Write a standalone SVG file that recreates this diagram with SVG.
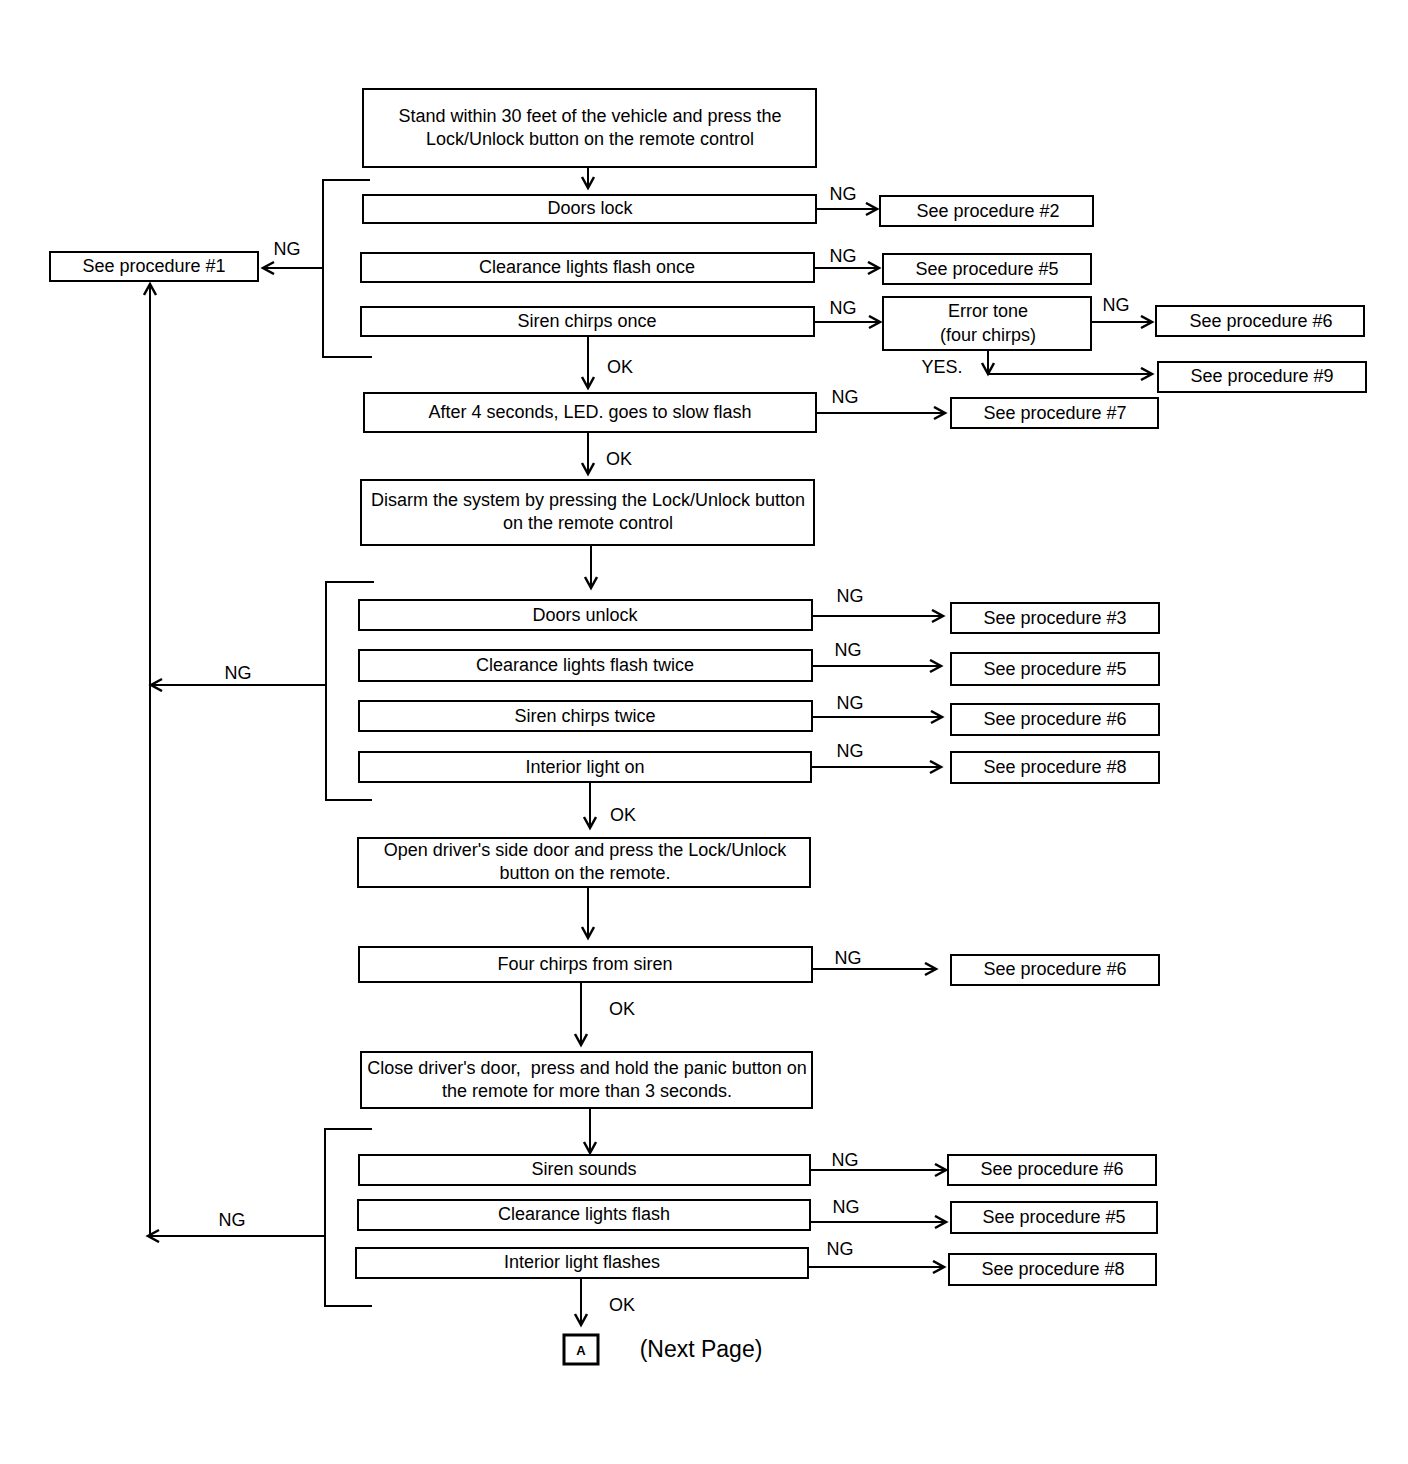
<svg xmlns="http://www.w3.org/2000/svg" width="1408" height="1464" viewBox="0 0 1408 1464">
<defs>
<style>
rect.b{fill:#fff;stroke:#000;stroke-width:2}
text{font-family:"Liberation Sans",Arial,sans-serif;font-size:18px;fill:#000;text-anchor:middle}
.c line,.c path,.c polyline{stroke:#000;stroke-width:2;fill:none}
</style>
<marker id="ah" markerUnits="userSpaceOnUse" markerWidth="16" markerHeight="16" refX="12" refY="7" orient="auto">
<path d="M1,1 L12,7 L1,13" fill="none" stroke="#000" stroke-width="2.5"/>
</marker>
</defs>
<rect width="1408" height="1464" fill="#fff"/>

<g class="c" id="connectors">
<line x1="588" y1="167" x2="588" y2="188" marker-end="url(#ah)"/>
<polyline points="370,180 323,180 323,357 372,357"/>
<line x1="323" y1="268" x2="263" y2="268" marker-end="url(#ah)"/>
<line x1="816" y1="209" x2="877" y2="209" marker-end="url(#ah)"/>
<line x1="814" y1="268" x2="879" y2="268" marker-end="url(#ah)"/>
<line x1="814" y1="322" x2="880" y2="322" marker-end="url(#ah)"/>
<line x1="1091" y1="322" x2="1152" y2="322" marker-end="url(#ah)"/>
<line x1="988" y1="350" x2="988" y2="374" marker-end="url(#ah)"/>
<line x1="988" y1="374" x2="1152" y2="374" marker-end="url(#ah)"/>
<line x1="588" y1="336" x2="588" y2="388" marker-end="url(#ah)"/>
<line x1="816" y1="413" x2="945" y2="413" marker-end="url(#ah)"/>
<line x1="588" y1="432" x2="588" y2="474" marker-end="url(#ah)"/>
<line x1="591" y1="545" x2="591" y2="588" marker-end="url(#ah)"/>
<polyline points="374,582 326,582 326,800 372,800"/>
<line x1="326" y1="685" x2="151" y2="685" marker-end="url(#ah)"/>
<line x1="812" y1="616" x2="943" y2="616" marker-end="url(#ah)"/>
<line x1="812" y1="666" x2="941" y2="666" marker-end="url(#ah)"/>
<line x1="812" y1="717" x2="942" y2="717" marker-end="url(#ah)"/>
<line x1="811" y1="767" x2="941" y2="767" marker-end="url(#ah)"/>
<line x1="590" y1="782" x2="590" y2="828" marker-end="url(#ah)"/>
<line x1="588" y1="887" x2="588" y2="938" marker-end="url(#ah)"/>
<line x1="812" y1="969" x2="936" y2="969" marker-end="url(#ah)"/>
<line x1="581" y1="982" x2="581" y2="1045" marker-end="url(#ah)"/>
<line x1="590" y1="1108" x2="590" y2="1153" marker-end="url(#ah)"/>
<polyline points="372,1129 325,1129 325,1306 372,1306"/>
<line x1="325" y1="1236" x2="148" y2="1236" marker-end="url(#ah)"/>
<line x1="150" y1="1236" x2="150" y2="284" marker-end="url(#ah)"/>
<line x1="810" y1="1170" x2="946" y2="1170" marker-end="url(#ah)"/>
<line x1="810" y1="1222" x2="946" y2="1222" marker-end="url(#ah)"/>
<line x1="808" y1="1267" x2="944" y2="1267" marker-end="url(#ah)"/>
<line x1="581" y1="1278" x2="581" y2="1325" marker-end="url(#ah)"/>
</g>

<g id="labels">
<text x="287" y="255">NG</text>
<text x="843" y="200">NG</text>
<text x="843" y="262">NG</text>
<text x="843" y="314">NG</text>
<text x="1116" y="311">NG</text>
<text x="942" y="373">YES.</text>
<text x="620" y="373">OK</text>
<text x="845" y="403">NG</text>
<text x="619" y="465">OK</text>
<text x="238" y="679">NG</text>
<text x="850" y="602">NG</text>
<text x="848" y="656">NG</text>
<text x="850" y="709">NG</text>
<text x="850" y="757">NG</text>
<text x="623" y="821">OK</text>
<text x="848" y="964">NG</text>
<text x="622" y="1015">OK</text>
<text x="232" y="1226">NG</text>
<text x="845" y="1166">NG</text>
<text x="846" y="1213">NG</text>
<text x="840" y="1255">NG</text>
<text x="622" y="1311">OK</text>
</g>

<g id="n-start"><rect class="b" x="363" y="89" width="453" height="78"/>
<text x="590" y="122">Stand within 30 feet of the vehicle and press the</text>
<text x="590" y="145">Lock/Unlock button on the remote control</text></g>

<g id="n-proc1"><rect class="b" x="50" y="252" width="208" height="29"/><text x="154" y="272">See procedure #1</text></g>

<g id="n-doorslock"><rect class="b" x="363" y="195" width="453" height="28"/><text x="590" y="214">Doors lock</text></g>
<g id="n-proc2"><rect class="b" x="880" y="196" width="213" height="30"/><text x="988" y="217">See procedure #2</text></g>
<g id="n-clear1"><rect class="b" x="361" y="253" width="453" height="29"/><text x="587" y="273">Clearance lights flash once</text></g>
<g id="n-proc5a"><rect class="b" x="883" y="254" width="208" height="30"/><text x="987" y="275">See procedure #5</text></g>
<g id="n-siren1"><rect class="b" x="361" y="307" width="453" height="29"/><text x="587" y="327">Siren chirps once</text></g>
<g id="n-error"><rect class="b" x="883" y="297" width="208" height="53"/>
<text x="988" y="317">Error tone</text><text x="988" y="341">(four chirps)</text></g>
<g id="n-proc6a"><rect class="b" x="1156" y="306" width="208" height="30"/><text x="1261" y="327">See procedure #6</text></g>
<g id="n-proc9"><rect class="b" x="1158" y="362" width="208" height="30"/><text x="1262" y="382">See procedure #9</text></g>
<g id="n-led"><rect class="b" x="364" y="393" width="452" height="39"/><text x="590" y="418">After 4 seconds, LED. goes to slow flash</text></g>
<g id="n-proc7"><rect class="b" x="951" y="398" width="207" height="30"/><text x="1055" y="419">See procedure #7</text></g>
<g id="n-disarm"><rect class="b" x="361" y="480" width="453" height="65"/>
<text x="588" y="506">Disarm the system by pressing the Lock/Unlock button</text>
<text x="588" y="529">on the remote control</text></g>

<g id="n-unlock"><rect class="b" x="359" y="600" width="453" height="30"/><text x="585" y="621">Doors unlock</text></g>
<g id="n-proc3"><rect class="b" x="951" y="603" width="208" height="30"/><text x="1055" y="624">See procedure #3</text></g>
<g id="n-clear2"><rect class="b" x="359" y="650" width="453" height="31"/><text x="585" y="671">Clearance lights flash twice</text></g>
<g id="n-proc5b"><rect class="b" x="951" y="653" width="208" height="32"/><text x="1055" y="675">See procedure #5</text></g>
<g id="n-siren2"><rect class="b" x="359" y="701" width="453" height="30"/><text x="585" y="722">Siren chirps twice</text></g>
<g id="n-proc6b"><rect class="b" x="951" y="704" width="208" height="31"/><text x="1055" y="725">See procedure #6</text></g>
<g id="n-intlight"><rect class="b" x="359" y="752" width="452" height="30"/><text x="585" y="773">Interior light on</text></g>
<g id="n-proc8a"><rect class="b" x="951" y="752" width="208" height="31"/><text x="1055" y="773">See procedure #8</text></g>

<g id="n-opendoor"><rect class="b" x="358" y="838" width="452" height="49"/>
<text x="585" y="856">Open driver's side door and press the Lock/Unlock</text>
<text x="585" y="879">button on the remote.</text></g>
<g id="n-fourchirps"><rect class="b" x="359" y="947" width="453" height="35"/><text x="585" y="970">Four chirps from siren</text></g>
<g id="n-proc6c"><rect class="b" x="951" y="955" width="208" height="30"/><text x="1055" y="975">See procedure #6</text></g>
<g id="n-close"><rect class="b" x="361" y="1052" width="451" height="56"/>
<text x="587" y="1074" xml:space="preserve">Close driver's door,  press and hold the panic button on</text>
<text x="587" y="1097">the remote for more than 3 seconds.</text></g>

<g id="n-sirensounds"><rect class="b" x="359" y="1155" width="451" height="30"/><text x="584" y="1175">Siren sounds</text></g>
<g id="n-proc6d"><rect class="b" x="948" y="1155" width="208" height="30"/><text x="1052" y="1175">See procedure #6</text></g>
<g id="n-clear3"><rect class="b" x="358" y="1200" width="452" height="30"/><text x="584" y="1220">Clearance lights flash</text></g>
<g id="n-proc5c"><rect class="b" x="951" y="1202" width="206" height="31"/><text x="1054" y="1223">See procedure #5</text></g>
<g id="n-intflash"><rect class="b" x="356" y="1248" width="452" height="30"/><text x="582" y="1268">Interior light flashes</text></g>
<g id="n-proc8b"><rect class="b" x="949" y="1254" width="207" height="31"/><text x="1053" y="1275">See procedure #8</text></g>

<g id="n-A"><rect x="564" y="1335" width="34" height="29" fill="#fff" stroke="#000" stroke-width="3"/>
<text x="581" y="1355" style="font-size:13px;font-weight:bold">A</text></g>
<text x="701" y="1357" style="font-size:23px">(Next Page)</text>
</svg>
